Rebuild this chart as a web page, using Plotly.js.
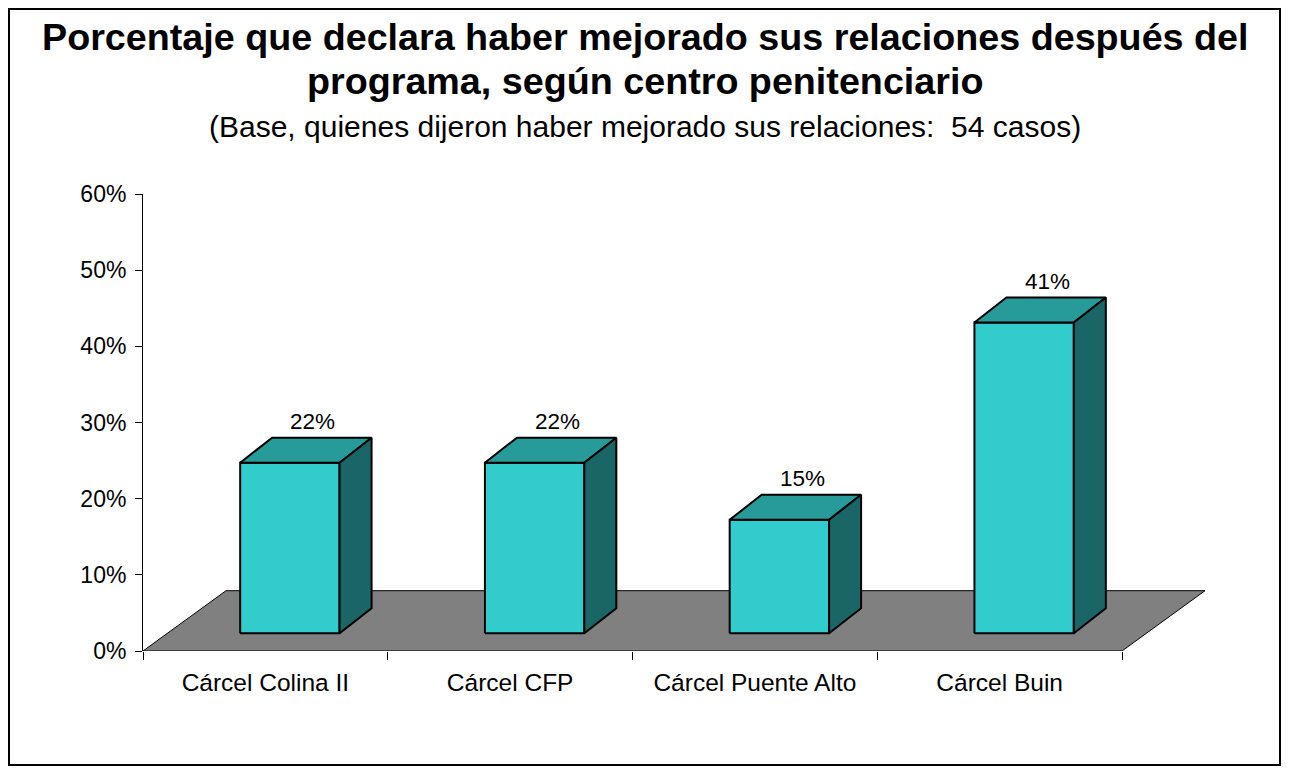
<!DOCTYPE html>
<html>
<head>
<meta charset="utf-8">
<script src="https://cdn.plot.ly/plotly-3.0.1.min.js"></script>
<style>
  html, body { margin: 0; padding: 0; background: #fff; }
  #chart { width: 1290px; height: 775px; }
</style>
</head>
<body>
<div id="chart"></div>
<script>
// data
const categories = ["Cárcel Colina II", "Cárcel CFP", "Cárcel Puente Alto", "Cárcel Buin"];
const values = [22.4, 22.4, 14.9, 40.8];
const yTickVals = [0, 10, 20, 30, 40, 50, 60];

const titleLines = [
    "Porcentaje que declara haber mejorado sus relaciones después del",
    "programa, según centro penitenciario"
];
const subTitle = "(Base, quienes dijeron haber mejorado sus relaciones:  54 casos)";

// page / plot box in pixels
const W = 1290, H = 775;
const M = {l: 143, r: 75, t: 194, b: 124};
const plotW = W - M.l - M.r;
const plotH = H - M.t - M.b;

// scales: one category = 244.75px, 60% = plot height
const pxPerCat = 244.75;
const xRange = [-0.5, -0.5 + plotW / pxPerCat];
const yRange = [0, 60];
const pxPerPct = plotH / (yRange[1] - yRange[0]);
const dx = (p) => p / pxPerCat;
const dy = (p) => p / pxPerPct;

// pixel position -> paper coords (for texts and frame)
const paperX = (px) => (px - M.l) / plotW;
const paperY = (py) => (H - M.b - py) / plotH;

// 3d look (pixel offsets)
const floorDepth = {x: dx(83), y: dy(60.3)};
const barDepth = {x: dx(32), y: dy(25)};
const barShift = {x: dx(24.5), y: dy(17.7)};
const barHalf = dx(49.7);

const FONT = "Liberation Sans, Arial, sans-serif";
const colFront = "#33CCCC", colTop = "#279A9A", colSide = "#1A6666", colFloor = "#808080";

const poly = (xs, ys, fill) => ({
    x: xs.concat([xs[0]]),
    y: ys.concat([ys[0]]),
    type: "scatter",
    mode: "lines",
    fill: "toself",
    fillcolor: fill,
    line: {color: "#000", width: 2},
    hoverinfo: "skip",
    showlegend: false
});

let traces = [];

// floor
const n = categories.length;
const fx0 = -0.5, fx1 = n - 0.5;
traces.push(poly(
    [fx0, fx1, fx1 + floorDepth.x, fx0 + floorDepth.x],
    [0, 0, floorDepth.y, floorDepth.y],
    colFloor
));
traces[0].line.width = 1;

// bars
let annotations = [];
values.forEach((v, i) => {
    const xl = i + barShift.x - barHalf;
    const xr = i + barShift.x + barHalf;
    const yb = barShift.y;
    const yt = barShift.y + v;
    traces.push(poly([xl, xr, xr, xl], [yb, yb, yt, yt], colFront));
    traces.push(poly(
        [xl, xr, xr + barDepth.x, xl + barDepth.x],
        [yt, yt, yt + barDepth.y, yt + barDepth.y],
        colTop
    ));
    traces.push(poly(
        [xr, xr + barDepth.x, xr + barDepth.x, xr],
        [yb, yb + barDepth.y, yt + barDepth.y, yt],
        colSide
    ));
    annotations.push({
        x: i + barShift.x + dx(23),
        y: yt + barDepth.y,
        xref: "x", yref: "y",
        text: Math.round(v) + "%",
        showarrow: false,
        yanchor: "middle",
        yshift: 16,
        font: {family: FONT, size: 22.5, color: "#000"}
    });
});

// invisible trace to carry the tick axis along the floor edge
traces.push({
    x: [fx0, fx1], y: [0, 0], xaxis: "x2", yaxis: "y",
    type: "scatter", mode: "none", hoverinfo: "skip", showlegend: false
});

// titles
const titleY = [37, 81];
titleLines.forEach((t, k) => {
    annotations.push({
        text: "<b>" + t + "</b>",
        xref: "paper", yref: "paper",
        x: paperX(W / 2), y: paperY(titleY[k]),
        xanchor: "center", yanchor: "middle",
        showarrow: false,
        font: {family: FONT, size: 37.7, color: "#000"}
    });
});
annotations.push({
    text: subTitle,
    xref: "paper", yref: "paper",
    x: paperX(W / 2), y: paperY(126),
    xanchor: "center", yanchor: "middle",
    showarrow: false,
    font: {family: FONT, size: 30, color: "#000"}
});

const boundaries = [];
for (let k = 0; k <= n; k++) boundaries.push(k - 0.5);

const layout = {
    width: W,
    height: H,
    margin: M,
    paper_bgcolor: "#fff",
    plot_bgcolor: "rgba(0,0,0,0)",
    showlegend: false,
    xaxis: {
        range: xRange,
        tickmode: "array",
        tickvals: categories.map((c, i) => i),
        ticktext: categories,
        ticks: "",
        showgrid: false,
        zeroline: false,
        showline: false,
        ticklabelstandoff: 14,
        tickfont: {family: FONT, size: 24.5, color: "#000"},
        fixedrange: true
    },
    xaxis2: {
        range: xRange,
        overlaying: "x",
        anchor: "y",
        side: "bottom",
        tickmode: "array",
        tickvals: boundaries,
        ticks: "outside",
        ticklen: 8,
        tickcolor: "#000",
        tickwidth: 1,
        showticklabels: false,
        showgrid: false,
        zeroline: false,
        showline: false
    },
    yaxis: {
        range: yRange,
        tickmode: "array",
        tickvals: yTickVals,
        ticktext: yTickVals.map(t => t + "%"),
        ticks: "outside",
        ticklen: 7,
        tickcolor: "#000",
        tickwidth: 1,
        showline: true,
        linecolor: "#000",
        linewidth: 1,
        showgrid: false,
        zeroline: false,
        ticklabelstandoff: 4,
        tickfont: {family: FONT, size: 23, color: "#000"},
        fixedrange: true
    },
    annotations: annotations,
    shapes: [{
        type: "rect",
        xref: "paper", yref: "paper",
        x0: paperX(9), x1: paperX(1280),
        y0: paperY(765), y1: paperY(9),
        line: {color: "#000", width: 2},
        fillcolor: "rgba(0,0,0,0)"
    }]
};

Plotly.newPlot("chart", traces, layout, {displayModeBar: false, staticPlot: true});
</script>
</body>
</html>
